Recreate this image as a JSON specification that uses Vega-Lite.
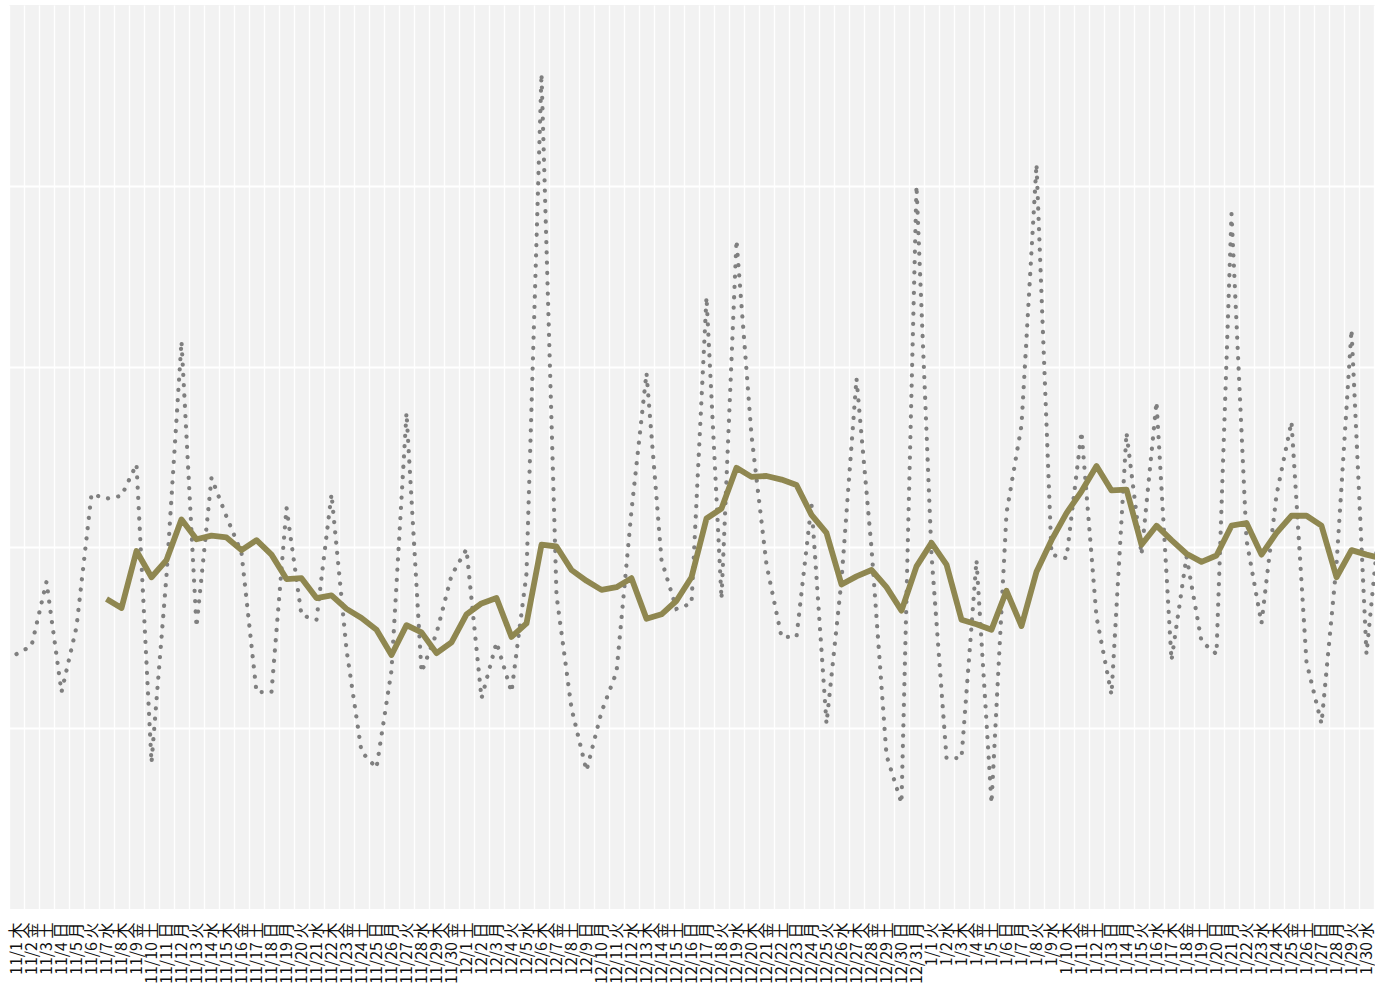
{
  "$schema": "https://vega.github.io/schema/vega-lite/v6.json",
  "width": 1366,
  "height": 904,
  "autosize": {"type": "none"},
  "padding": {"left": 9, "top": 5, "right": 0, "bottom": 78},
  "background": "white",
  "data": {
    "values": [
      {"d": "11/1 木", "v": 28.2, "ma": null},
      {"d": "11/2 金", "v": 29.1, "ma": null},
      {"d": "11/3 土", "v": 36.2, "ma": null},
      {"d": "11/4 日", "v": 24.0, "ma": null},
      {"d": "11/5 月", "v": 31.2, "ma": null},
      {"d": "11/6 火", "v": 45.9, "ma": null},
      {"d": "11/7 水", "v": 45.4, "ma": 34.3},
      {"d": "11/8 木", "v": 45.7, "ma": 33.3},
      {"d": "11/9 金", "v": 49.2, "ma": 39.6},
      {"d": "11/10 土", "v": 16.2, "ma": 36.7},
      {"d": "11/11 日", "v": 36.9, "ma": 38.6},
      {"d": "11/12 月", "v": 62.8, "ma": 43.1},
      {"d": "11/13 火", "v": 31.2, "ma": 40.9},
      {"d": "11/14 水", "v": 47.7, "ma": 41.3},
      {"d": "11/15 木", "v": 43.4, "ma": 41.1},
      {"d": "11/16 金", "v": 39.4, "ma": 39.7},
      {"d": "11/17 土", "v": 24.0, "ma": 40.8},
      {"d": "11/18 日", "v": 24.0, "ma": 39.2},
      {"d": "11/19 月", "v": 44.4, "ma": 36.5},
      {"d": "11/20 火", "v": 32.5, "ma": 36.6},
      {"d": "11/21 水", "v": 32.0, "ma": 34.4},
      {"d": "11/22 木", "v": 45.9, "ma": 34.7},
      {"d": "11/23 金", "v": 28.7, "ma": 33.2},
      {"d": "11/24 土", "v": 17.4, "ma": 32.2},
      {"d": "11/25 日", "v": 15.6, "ma": 30.9},
      {"d": "11/26 月", "v": 26.4, "ma": 28.1},
      {"d": "11/27 火", "v": 54.9, "ma": 31.4},
      {"d": "11/28 水", "v": 26.2, "ma": 30.6},
      {"d": "11/29 木", "v": 30.5, "ma": 28.3},
      {"d": "11/30 金", "v": 36.9, "ma": 29.5},
      {"d": "12/1 土", "v": 39.8, "ma": 32.6},
      {"d": "12/2 日", "v": 23.3, "ma": 33.8},
      {"d": "12/3 月", "v": 29.5, "ma": 34.4},
      {"d": "12/4 火", "v": 24.0, "ma": 30.1},
      {"d": "12/5 水", "v": 37.1, "ma": 31.6},
      {"d": "12/6 木", "v": 92.4, "ma": 40.3},
      {"d": "12/7 金", "v": 34.7, "ma": 40.1},
      {"d": "12/8 土", "v": 22.2, "ma": 37.5},
      {"d": "12/9 日", "v": 15.3, "ma": 36.3},
      {"d": "12/10 月", "v": 21.8, "ma": 35.3},
      {"d": "12/11 火", "v": 26.2, "ma": 35.6},
      {"d": "12/12 水", "v": 44.1, "ma": 36.6},
      {"d": "12/13 木", "v": 59.3, "ma": 32.1},
      {"d": "12/14 金", "v": 38.6, "ma": 32.6},
      {"d": "12/15 土", "v": 33.2, "ma": 34.1},
      {"d": "12/16 日", "v": 33.8, "ma": 36.7},
      {"d": "12/17 月", "v": 67.7, "ma": 43.2},
      {"d": "12/18 火", "v": 34.3, "ma": 44.3},
      {"d": "12/19 水", "v": 74.0, "ma": 48.8},
      {"d": "12/20 木", "v": 52.4, "ma": 47.8},
      {"d": "12/21 金", "v": 38.1, "ma": 47.9},
      {"d": "12/22 土", "v": 30.1, "ma": 47.5},
      {"d": "12/23 日", "v": 30.1, "ma": 46.9},
      {"d": "12/24 月", "v": 44.8, "ma": 43.6},
      {"d": "12/25 火", "v": 20.5, "ma": 41.6},
      {"d": "12/26 水", "v": 36.4, "ma": 35.9},
      {"d": "12/27 木", "v": 58.7, "ma": 36.8},
      {"d": "12/28 金", "v": 39.9, "ma": 37.5},
      {"d": "12/29 土", "v": 17.0, "ma": 35.6},
      {"d": "12/30 日", "v": 11.7, "ma": 33.0},
      {"d": "12/31 月", "v": 80.0, "ma": 37.9},
      {"d": "1/1 火", "v": 39.2, "ma": 40.5},
      {"d": "1/2 水", "v": 16.7, "ma": 38.1},
      {"d": "1/3 木", "v": 16.7, "ma": 32.0},
      {"d": "1/4 金", "v": 38.6, "ma": 31.5},
      {"d": "1/5 土", "v": 11.7, "ma": 30.9},
      {"d": "1/6 日", "v": 43.8, "ma": 35.2},
      {"d": "1/7 月", "v": 53.5, "ma": 31.3},
      {"d": "1/8 火", "v": 82.4, "ma": 37.3},
      {"d": "1/9 水", "v": 39.2, "ma": 40.8},
      {"d": "1/10 木", "v": 38.8, "ma": 43.8},
      {"d": "1/11 金", "v": 52.8, "ma": 46.2},
      {"d": "1/12 土", "v": 32.3, "ma": 49.0},
      {"d": "1/13 日", "v": 23.7, "ma": 46.3},
      {"d": "1/14 月", "v": 52.7, "ma": 46.4},
      {"d": "1/15 火", "v": 39.2, "ma": 40.3},
      {"d": "1/16 水", "v": 56.1, "ma": 42.4},
      {"d": "1/17 木", "v": 27.5, "ma": 40.8},
      {"d": "1/18 金", "v": 39.0, "ma": 39.3},
      {"d": "1/19 土", "v": 29.6, "ma": 38.4},
      {"d": "1/20 日", "v": 28.2, "ma": 39.1},
      {"d": "1/21 月", "v": 76.9, "ma": 42.4},
      {"d": "1/22 火", "v": 40.8, "ma": 42.7},
      {"d": "1/23 水", "v": 31.6, "ma": 39.2},
      {"d": "1/24 木", "v": 45.8, "ma": 41.6},
      {"d": "1/25 金", "v": 53.9, "ma": 43.5},
      {"d": "1/26 土", "v": 27.3, "ma": 43.5},
      {"d": "1/27 日", "v": 20.5, "ma": 42.4},
      {"d": "1/28 月", "v": 38.1, "ma": 36.7},
      {"d": "1/29 火", "v": 64.1, "ma": 39.7},
      {"d": "1/30 水", "v": 28.2, "ma": 39.2},
      {"d": "1/31 木", "v": 45.2, "ma": 38.8}
    ]
  },
  "encoding": {
    "x": {
      "field": "d",
      "type": "nominal",
      "sort": null,
      "bandPosition": 0.5,
      "scale": {"type": "band", "paddingInner": 0, "paddingOuter": 0, "range": [0, 1380]},
      "axis": {
        "title": null,
        "labelAngle": 270,
        "labelOverlap": false,
        "labelPadding": 13,
        "labelExpr": "datum.value == '1/31 木' ? '' : datum.label",
        "labelFont": "Noto Sans CJK JP",
        "labelFontSize": 16,
        "labelColor": "#111111",
        "ticks": false,
        "domain": false,
        "grid": true,
        "tickBand": "extent",
        "gridColor": "white",
        "gridWidth": 1.3
      }
    },
    "y": {
      "type": "quantitative",
      "scale": {"domain": [0, 100], "nice": false, "zero": false},
      "axis": {
        "title": null,
        "values": [20, 40, 60, 80],
        "labels": false,
        "ticks": false,
        "domain": false,
        "gridColor": "white",
        "gridWidth": 2
      }
    }
  },
  "layer": [
    {
      "mark": {
        "type": "line",
        "color": "#7F7F7F",
        "strokeWidth": 4.2,
        "strokeCap": "round",
        "strokeDash": [0.1, 10.2]
      },
      "encoding": {"y": {"field": "v", "type": "quantitative"}}
    },
    {
      "mark": {
        "type": "line",
        "color": "#8F8750",
        "strokeWidth": 5.8,
        "strokeJoin": "round"
      },
      "encoding": {"y": {"field": "ma", "type": "quantitative"}}
    }
  ],
  "config": {
    "view": {"fill": "#F2F2F2", "stroke": null}
  }
}
